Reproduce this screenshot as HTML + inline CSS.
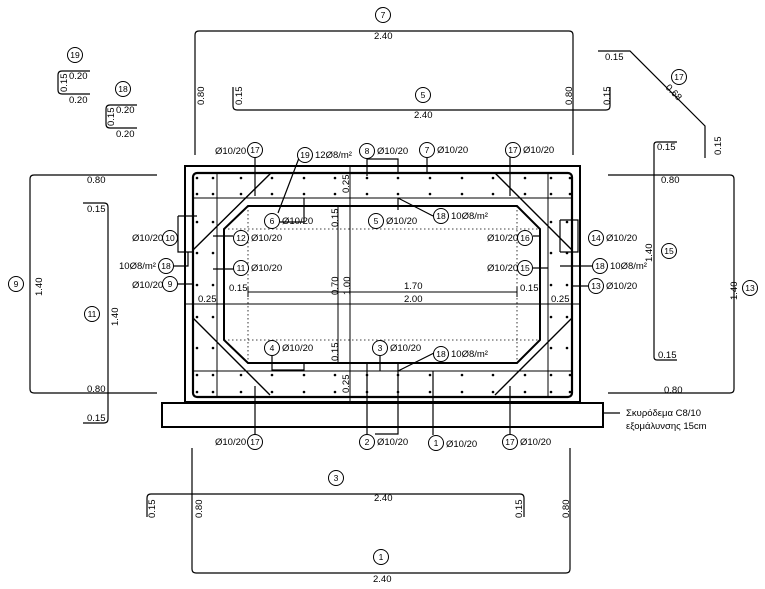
<!DOCTYPE html>
<html><head><meta charset="utf-8"><style>
html,body{margin:0;padding:0;background:#fff;}
svg{display:block;}
text{font-family:"Liberation Sans Narrow","Liberation Sans",sans-serif;font-size:9.5px;fill:#000;}
</style></head><body>
<svg width="765" height="589" viewBox="0 0 765 589" xmlns="http://www.w3.org/2000/svg">
<defs>
<g id="c"><circle r="7.5" fill="#fff" stroke="#000" stroke-width="1"/></g>
<g id="r"><circle cx="197" cy="0" r="1.3"/><circle cx="213" r="1.3"/><circle cx="241" r="1.3"/><circle cx="272" r="1.3"/><circle cx="304" r="1.3"/><circle cx="335" r="1.3"/><circle cx="367" r="1.3"/><circle cx="398" r="1.3"/><circle cx="430" r="1.3"/><circle cx="462" r="1.3"/><circle cx="493" r="1.3"/><circle cx="525" r="1.3"/><circle cx="551" r="1.3"/><circle cx="570" r="1.3"/></g>
<g id="s"><circle cx="197" cy="222" r="1.3"/><circle cx="213" cy="222" r="1.3"/><circle cx="197" cy="253" r="1.3"/><circle cx="213" cy="253" r="1.3"/><circle cx="197" cy="285" r="1.3"/><circle cx="213" cy="285" r="1.3"/><circle cx="197" cy="317" r="1.3"/><circle cx="213" cy="317" r="1.3"/><circle cx="197" cy="348" r="1.3"/><circle cx="213" cy="348" r="1.3"/></g>
</defs>
<g fill="none" stroke="#000" stroke-width="1.2">
<path d="M195 155 V35 q0-4 4-4 H569 q4 0 4 4 V155"/>
<path d="M233 87 V106 q0 4 4 4 H606 q4 0 4-4 V87"/>
<path d="M598 51 H630 L705 126 V158"/>
<path d="M608 175 H730 q4 0 4 4 V389 q0 4-4 4 H608"/>
<path d="M677 142 H657 q-3 0-3 3 V357 q0 3 3 3 H677"/>
<path d="M157 175 H34 q-4 0-4 4 V389 q0 4 4 4 H157"/>
<path d="M83 203 H104 q4 0 4 4 V419 q0 4-4 4 H83"/>
<path d="M90 71 H62 q-4 0-4 4 V90 q0 4 4 4 H90"/>
<path d="M137 105 H110 q-4 0-4 4 V124 q0 4 4 4 H137"/>
<path d="M147 517 V498 q0-4 4-4 H520 q4 0 4 4 V517"/>
<path d="M192 448 V569 q0 4 4 4 H566 q4 0 4-4 V448"/>
<rect x="185" y="166" width="395" height="236" stroke-width="2"/>
<rect x="162" y="403" width="441" height="24" stroke-width="2"/>
<path d="M603 413 H620"/>
<rect x="193" y="173" width="379" height="224" rx="4" stroke-width="2.2"/>
<path d="M193 198 H572 M193 371 H572 M217 173 V397 M548 173 V397" stroke-width="1"/>
<path d="M248 206 H517 L540 229 V340 L517 363 H248 L224 340 V229 Z" stroke-width="2"/>
<path d="M271 173 L193 250 M193 318 L270 395 M495 173 L572 250 M572 318 L495 395" stroke-width="1.4"/>
<path d="M224 229 H540 M224 340 H540 M248 206 V363 M517 206 V363" stroke-width="0.8" stroke-dasharray="1.5 2.5"/>
<path d="M350 166 V402 M338 206 V363 M185 304 H580 M248 292 H517 M248 287 V297 M517 287 V297" stroke-width="1"/>
<!-- leaders -->
<path d="M255 157 V196 M510 157 V196 M255 434 V386 M510 434 V386 M367 159 V176 M367 159 H398 V174 M427 158 V172 M398 198 V210 M304 198 V222 H280 M367 363 V434 M398 363 V434 H375 M433 371 V435 M272 356 V370 H304 V363 M380 356 V371 M178 216 V252 H193 M197 216 H178 M213 236 H233 M249 269 H213 M174 266 H188 V252 M178 284 H193 M560 220 V252 M560 220 H578 V252 H560 M533 236 H540 M533 268 H548 M592 266 H560 M588 286 H572 M299 158 L278 213 M433 216 L398 198 M434 353 L398 371"/>
</g>
<g fill="#000">
<use href="#r" y="178"/><use href="#r" y="194"/><use href="#r" y="375"/><use href="#r" y="392"/>
<use href="#s"/><use href="#s" x="354"/>
</g>
<g>
<use href="#c" x="383" y="15"/><use href="#c" x="423" y="95"/><use href="#c" x="679" y="77"/>
<use href="#c" x="75" y="55"/><use href="#c" x="123" y="89"/>
<use href="#c" x="16" y="284"/><use href="#c" x="92" y="314"/>
<use href="#c" x="669" y="251"/><use href="#c" x="750" y="288"/>
<use href="#c" x="336" y="478"/><use href="#c" x="381" y="557"/>
<use href="#c" x="255" y="150"/><use href="#c" x="305" y="155"/><use href="#c" x="367" y="151"/><use href="#c" x="427" y="150"/><use href="#c" x="513" y="150"/>
<use href="#c" x="272" y="221"/><use href="#c" x="376" y="221"/><use href="#c" x="441" y="216"/>
<use href="#c" x="170" y="238"/><use href="#c" x="241" y="238"/><use href="#c" x="166" y="266"/><use href="#c" x="241" y="268"/><use href="#c" x="170" y="284"/>
<use href="#c" x="525" y="238"/><use href="#c" x="596" y="238"/><use href="#c" x="525" y="268"/><use href="#c" x="600" y="266"/><use href="#c" x="596" y="286"/>
<use href="#c" x="272" y="348"/><use href="#c" x="380" y="348"/><use href="#c" x="441" y="354"/>
<use href="#c" x="255" y="442"/><use href="#c" x="367" y="442"/><use href="#c" x="436" y="443"/><use href="#c" x="510" y="442"/>
</g>
<g text-anchor="middle">
<text x="383" y="18" style="font-size:8.5px">7</text><text x="423" y="98" style="font-size:8.5px">5</text><text x="679" y="80" style="font-size:8.5px">17</text>
<text x="75" y="58" style="font-size:8.5px">19</text><text x="123" y="92" style="font-size:8.5px">18</text>
<text x="16" y="287" style="font-size:8.5px">9</text><text x="92" y="317" style="font-size:8.5px">11</text>
<text x="669" y="254" style="font-size:8.5px">15</text><text x="750" y="291" style="font-size:8.5px">13</text>
<text x="336" y="481" style="font-size:8.5px">3</text><text x="381" y="560" style="font-size:8.5px">1</text>
<text x="255" y="153" style="font-size:8.5px">17</text><text x="305" y="158" style="font-size:8.5px">19</text><text x="367" y="154" style="font-size:8.5px">8</text><text x="427" y="153" style="font-size:8.5px">7</text><text x="513" y="153" style="font-size:8.5px">17</text>
<text x="272" y="224" style="font-size:8.5px">6</text><text x="376" y="224" style="font-size:8.5px">5</text><text x="441" y="219" style="font-size:8.5px">18</text>
<text x="170" y="241" style="font-size:8.5px">10</text><text x="241" y="241" style="font-size:8.5px">12</text><text x="166" y="269" style="font-size:8.5px">18</text><text x="241" y="271" style="font-size:8.5px">11</text><text x="170" y="287" style="font-size:8.5px">9</text>
<text x="525" y="241" style="font-size:8.5px">16</text><text x="596" y="241" style="font-size:8.5px">14</text><text x="525" y="271" style="font-size:8.5px">15</text><text x="600" y="269" style="font-size:8.5px">18</text><text x="596" y="289" style="font-size:8.5px">13</text>
<text x="272" y="351" style="font-size:8.5px">4</text><text x="380" y="351" style="font-size:8.5px">3</text><text x="441" y="357" style="font-size:8.5px">18</text>
<text x="255" y="445" style="font-size:8.5px">17</text><text x="367" y="445" style="font-size:8.5px">2</text><text x="436" y="446" style="font-size:8.5px">1</text><text x="510" y="445" style="font-size:8.5px">17</text>
</g>
<g>
<text x="374" y="39">2.40</text><text x="414" y="118">2.40</text><text x="374" y="501">2.40</text><text x="373" y="582">2.40</text>
<text x="605" y="60">0.15</text><text x="215" y="154">Ø10/20</text><text x="315" y="158">12Ø8/m²</text><text x="377" y="154">Ø10/20</text><text x="437" y="153">Ø10/20</text><text x="523" y="153">Ø10/20</text>
<text x="282" y="224">Ø10/20</text><text x="386" y="224">Ø10/20</text><text x="451" y="219">10Ø8/m²</text>
<text x="132" y="241">Ø10/20</text><text x="251" y="241">Ø10/20</text><text x="119" y="269">10Ø8/m²</text><text x="251" y="271">Ø10/20</text><text x="132" y="288">Ø10/20</text>
<text x="487" y="241">Ø10/20</text><text x="606" y="241">Ø10/20</text><text x="487" y="271">Ø10/20</text><text x="610" y="269">10Ø8/m²</text><text x="606" y="289">Ø10/20</text>
<text x="282" y="351">Ø10/20</text><text x="390" y="351">Ø10/20</text><text x="451" y="357">10Ø8/m²</text>
<text x="215" y="445">Ø10/20</text><text x="377" y="445">Ø10/20</text><text x="446" y="447">Ø10/20</text><text x="520" y="445">Ø10/20</text>
<text x="229" y="291">0.15</text><text x="198" y="302">0.25</text><text x="404" y="289">1.70</text><text x="404" y="302">2.00</text>
<text x="520" y="291">0.15</text><text x="551" y="302">0.25</text>
<text x="87" y="183">0.80</text><text x="87" y="212">0.15</text><text x="87" y="392">0.80</text><text x="87" y="421">0.15</text>
<text x="661" y="183">0.80</text><text x="657" y="150">0.15</text><text x="658" y="358">0.15</text><text x="664" y="393">0.80</text>
<text x="69" y="79">0.20</text><text x="69" y="103">0.20</text><text x="116" y="113">0.20</text><text x="116" y="137">0.20</text>
<text x="626" y="416">Σκυρόδεμα C8/10</text><text x="626" y="429">εξομάλυνσης 15cm</text>
<text transform="translate(665 88) rotate(45)">0.68</text>
</g>
<g>
<text transform="translate(204 105) rotate(-90)">0.80</text><text transform="translate(242 105) rotate(-90)">0.15</text>
<text transform="translate(572 105) rotate(-90)">0.80</text><text transform="translate(610 105) rotate(-90)">0.15</text>
<text transform="translate(721 155) rotate(-90)">0.15</text>
<text transform="translate(42 296) rotate(-90)">1.40</text><text transform="translate(118 326) rotate(-90)">1.40</text>
<text transform="translate(652 262) rotate(-90)">1.40</text><text transform="translate(737 300) rotate(-90)">1.40</text>
<text transform="translate(155 518) rotate(-90)">0.15</text><text transform="translate(202 518) rotate(-90)">0.80</text>
<text transform="translate(522 518) rotate(-90)">0.15</text><text transform="translate(569 518) rotate(-90)">0.80</text>
<text transform="translate(67 92) rotate(-90)">0.15</text><text transform="translate(114 126) rotate(-90)">0.15</text>
<text transform="translate(349 193) rotate(-90)">0.25</text><text transform="translate(338 227) rotate(-90)">0.15</text>
<text transform="translate(338 295) rotate(-90)">0.70</text><text transform="translate(350 295) rotate(-90)">1.00</text>
<text transform="translate(338 361) rotate(-90)">0.15</text><text transform="translate(349 393) rotate(-90)">0.25</text>
</g>
</svg>
</body></html>
